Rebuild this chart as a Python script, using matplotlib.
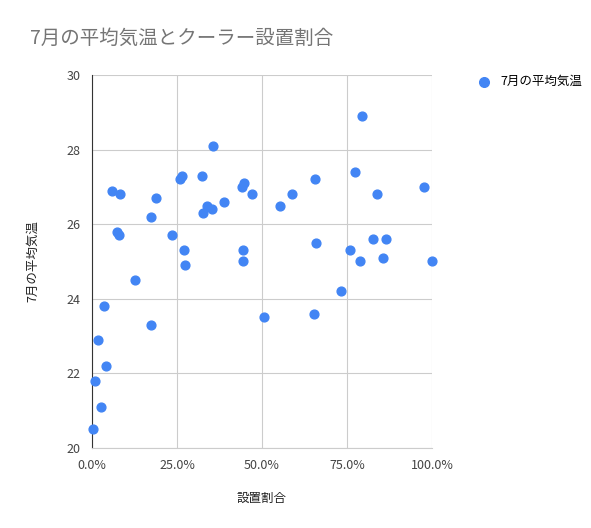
import matplotlib
matplotlib.use("Agg")
import matplotlib.pyplot as plt
from matplotlib.ticker import FuncFormatter

plt.rcParams['font.family'] = ['Noto Sans CJK JP', 'DejaVu Sans']

ratio = [0.3,0.9,1.8,2.7,3.5,4.1,5.9,7.4,8.0,8.3,12.7,17.4,17.4,18.9,23.6,26.0,26.5,27.1,27.4,
         32.4,32.7,33.9,35.4,35.7,38.9,44.2,44.8,44.5,44.5,47.2,50.7,55.2,58.7,65.5,65.8,65.2,
         73.2,75.8,77.3,78.8,79.4,82.6,83.8,85.5,86.4,97.6,100.0]
temp = [20.5,21.8,22.9,21.1,23.8,22.2,26.9,25.8,25.7,26.8,24.5,26.2,23.3,26.7,25.7,27.2,27.3,25.3,24.9,
        27.3,26.3,26.5,26.4,28.1,26.6,27.0,27.1,25.3,25.0,26.8,23.5,26.5,26.8,27.2,25.5,23.6,
        24.2,25.3,27.4,25.0,28.9,25.6,26.8,25.1,25.6,27.0,25.0]
xticks = [0,25,50,75,100]
yticks = [20,22,24,26,28,30]

fig = plt.figure(figsize=(5.91,5.28), dpi=100)
ax = fig.add_axes([92/591, 1-448/528, 340/591, 373/528])
ax.scatter(ratio, temp, s=40, color='#4285F4', zorder=3, label='7月の平均気温', clip_on=False)
ax.set_xlim(0,100); ax.set_ylim(20,30)
ax.set_xticks(xticks); ax.set_yticks(yticks)
ax.xaxis.set_major_formatter(FuncFormatter(lambda v,p: f"{v:.1f}%"))
ax.grid(True, color='#cccccc', lw=0.8)
for s in ['top','right']: ax.spines[s].set_visible(False)
ax.spines['bottom'].set_color('#cccccc')
ax.spines['left'].set_color('#333333')
ax.tick_params(length=0, colors='#444444', labelsize=9)
ax.tick_params(axis='x', pad=8)
ax.tick_params(axis='y', pad=8)
ax.set_xlabel('設置割合', fontsize=9, color='#222222', labelpad=14)
ax.set_ylabel('7月の平均気温', fontsize=9, color='#222222', labelpad=20)
fig.text(30/591, 1-38/528, '7月の平均気温とクーラー設置割合', fontsize=14, color='#757575', va='center')
fig.legend(loc='upper left', bbox_to_anchor=(460/591, 1-64/528), frameon=False, fontsize=9,
           handletextpad=0.3, markerscale=1.1)
fig.savefig('out.png', dpi=100)
